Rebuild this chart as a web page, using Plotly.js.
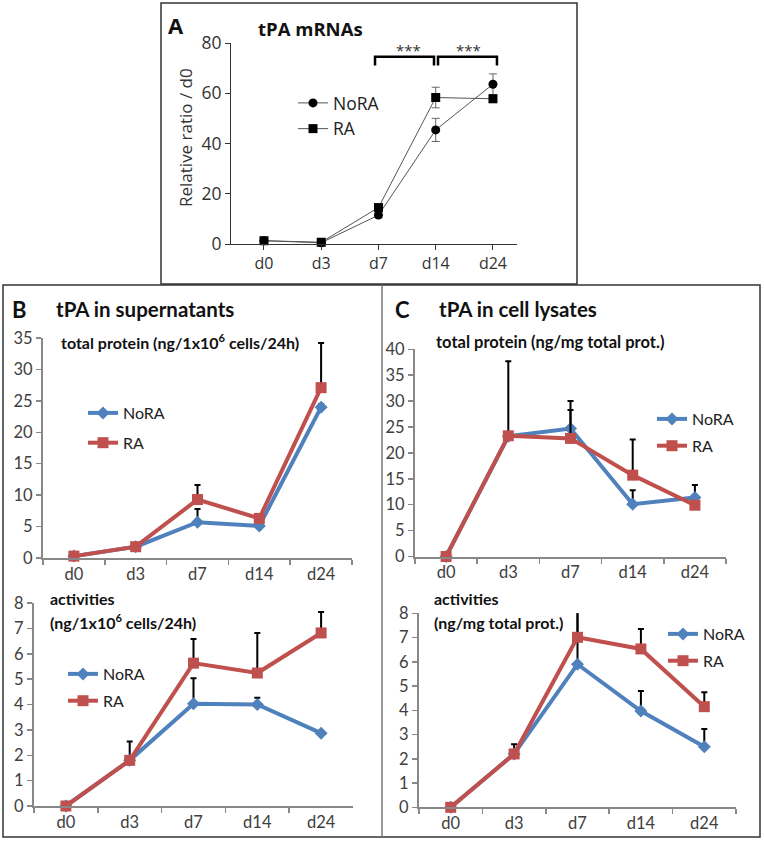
<!DOCTYPE html>
<html><head><meta charset="utf-8">
<script src="https://cdn.plot.ly/plotly-3.0.1.min.js"></script>
<style>body{margin:0;background:#fff}#chart{width:764px;height:841px}</style></head>
<body><div id="chart"></div>
<script>
const days = ['d0','d3','d7','d14','d24'];
// Panel A: tPA mRNAs (relative ratio / d0)
const mrnaNoRA = [1.3, 0.5, 11.5, 45.4, 63.6];
const mrnaNoRAErr = [0.3, 0.2, 1.0, 4.6, 4.1];
const mrnaRA = [1.3, 0.7, 14.5, 58.3, 57.8];
const mrnaRAErr = [0.3, 0.2, 1.0, 4.1, 1.5];
// Panel B top: supernatant total protein
const supProtNoRA = [0.3, 1.8, 5.7, 5.1, 24.0];
const supProtNoRAErr = [NaN, NaN, 2.1, NaN, 0.5];
const supProtRA = [0.3, 1.8, 9.3, 6.3, 27.1];
const supProtRAErr = [NaN, NaN, 2.3, NaN, 7.1];
// Panel B bottom: supernatant activities
const supActNoRA = [0, 1.8, 4.03, 4.0, 2.87];
const supActNoRAErr = [NaN, 0.74, 1.0, 0.27, NaN];
const supActRA = [0, 1.8, 5.63, 5.24, 6.82];
const supActRAErr = [NaN, NaN, 0.95, 1.58, 0.83];
// Panel C top: lysate total protein
const lysProtNoRA = [0, 23.2, 24.7, 10.1, 11.4];
const lysProtNoRAErr = [NaN, NaN, 3.6, 2.7, 2.4];
const lysProtRA = [0, 23.3, 22.8, 15.7, 9.9];
const lysProtRAErr = [NaN, 14.4, 7.2, 6.9, NaN];
// Panel C bottom: lysate activities
const lysActNoRA = [0, 2.2, 5.9, 3.97, 2.5];
const lysActNoRAErr = [NaN, 0.4, 2.2, 0.83, 0.73];
const lysActRA = [0, 2.2, 7.01, 6.53, 4.15];
const lysActRAErr = [NaN, NaN, 1.1, 0.82, 0.59];

const W = 764, H = 841;
const px = v => v / W;
const py = v => 1 - v / H;
const BLUE = '#4F81BD', RED = '#C0504D';
const FONT = 'Lato, "Open Sans", sans-serif';
const FONT_A = '"Open Sans", sans-serif';

function excelTrace(y, err, name, color, symbol, size, n, leg, grp) {
  return {
    x: days, y: y, name: name, type: 'scatter', mode: 'lines+markers',
    xaxis: 'x' + n, yaxis: 'y' + n, legend: leg, legendgroup: grp,
    cliponaxis: false,
    line: {color: color, width: 4},
    marker: {color: color, symbol: symbol, size: size},
    error_y: {type: 'data', symmetric: false, array: err, arrayminus: err.map(() => 0),
      color: '#000', thickness: 2, width: 3}
  };
}
function aTrace(y, err, name, symbol, grp) {
  return {
    x: days, y: y, name: name, type: 'scatter', mode: 'lines+markers',
    xaxis: 'x', yaxis: 'y', legend: 'legend', legendgroup: grp, cliponaxis: false,
    line: {color: '#555', width: 1},
    marker: {color: '#000', symbol: symbol, size: 9},
    error_y: {type: 'data', array: err, color: '#666', thickness: 1, width: 4}
  };
}

const data = [
  aTrace(mrnaNoRA, mrnaNoRAErr, 'NoRA', 'circle', 'a1'),
  aTrace(mrnaRA, mrnaRAErr, 'RA', 'square', 'a2'),
  excelTrace(supProtNoRA, supProtNoRAErr, 'NoRA', BLUE, 'diamond', 10, 2, 'legend2', 'b1'),
  excelTrace(supProtRA, supProtRAErr, 'RA', RED, 'square', 11, 2, 'legend2', 'b2'),
  excelTrace(supActNoRA, supActNoRAErr, 'NoRA', BLUE, 'diamond', 10, 3, 'legend3', 'c1'),
  excelTrace(supActRA, supActRAErr, 'RA', RED, 'square', 11, 3, 'legend3', 'c2'),
  excelTrace(lysProtNoRA, lysProtNoRAErr, 'NoRA', BLUE, 'diamond', 10, 4, 'legend4', 'd1'),
  excelTrace(lysProtRA, lysProtRAErr, 'RA', RED, 'square', 11, 4, 'legend4', 'd2'),
  excelTrace(lysActNoRA, lysActNoRAErr, 'NoRA', BLUE, 'diamond', 10, 5, 'legend5', 'e1'),
  excelTrace(lysActRA, lysActRAErr, 'RA', RED, 'square', 11, 5, 'legend5', 'e2')
];

function exX(d0, d1, n) {
  return {domain: [px(d0), px(d1)], anchor: 'y' + n, type: 'category', range: [-0.5, 4.5],
    tickson: 'boundaries', ticks: 'outside', ticklen: 5, tickwidth: 1.5, tickcolor: '#888',
    showline: true, linecolor: '#888', linewidth: 2, showgrid: false, zeroline: false,
    tickfont: {family: FONT, size: 16.5, color: '#404040'}, fixedrange: true};
}
function exY(top, bot, max, dt, n) {
  return {domain: [py(bot), py(top)], anchor: 'x' + n, range: [0, max], dtick: dt,
    ticks: 'outside', ticklen: 5, tickwidth: 1.5, tickcolor: '#888',
    showline: true, linecolor: '#888', linewidth: 2, showgrid: false, zeroline: false,
    tickfont: {family: FONT, size: 16.5, color: '#404040'}, fixedrange: true};
}
function exLegend(textLeft, topY, gap) {
  return {x: px(textLeft - 40), y: py(topY), xanchor: 'left', yanchor: 'top',
    bgcolor: 'rgba(0,0,0,0)', borderwidth: 0, tracegroupgap: gap,
    font: {family: FONT, size: 16, color: '#222'}};
}
function ann(text, x, y, size, opts) {
  return Object.assign({text: text, x: px(x), y: py(y), xref: 'paper', yref: 'paper',
    xanchor: 'left', yanchor: 'middle', showarrow: false,
    font: {family: FONT, size: size, color: '#111'}}, opts || {});
}

const layout = {
  width: W, height: H, margin: {l: 0, r: 0, t: 0, b: 0},
  paper_bgcolor: '#fff', plot_bgcolor: 'rgba(0,0,0,0)',
  xaxis: {domain: [px(231), px(517)], anchor: 'y', type: 'category', range: [-0.576, 4.42],
    ticks: 'outside', ticklen: 5, tickcolor: '#333', showline: true, linecolor: '#333', linewidth: 1,
    showgrid: false, zeroline: false, tickfont: {family: FONT_A, size: 16, color: '#333'}},
  yaxis: {domain: [py(244), py(43)], anchor: 'x', range: [0, 80], dtick: 20,
    ticks: 'outside', ticklen: 5, tickcolor: '#333', showline: true, linecolor: '#333', linewidth: 1,
    showgrid: false, zeroline: false, tickfont: {family: FONT_A, size: 17.5, color: '#333'}},
  xaxis2: exX(43, 352, 2), yaxis2: exY(338, 558, 35, 5, 2),
  xaxis3: exX(34, 353, 3), yaxis3: exY(603, 806, 8, 1, 3),
  xaxis4: exX(415, 726, 4), yaxis4: exY(349.3, 556.5, 40, 5, 4),
  xaxis5: exX(419, 736, 5), yaxis5: exY(613.3, 807.3, 8, 1, 5),
  legend: {x: px(333 - 40), y: py(85), xanchor: 'left', yanchor: 'top',
    bgcolor: 'rgba(0,0,0,0)', borderwidth: 0, tracegroupgap: 0,
    font: {family: FONT_A, size: 17.5, color: '#222'}},
  legend2: exLegend(123, 396, 6),
  legend3: exLegend(103, 657, 3),
  legend4: exLegend(692, 402, 3),
  legend5: exLegend(703, 617, 3),
  showlegend: true,
  annotations: [
    ann('<b>A</b>', 166, 25, 22, {font: {family: FONT_A, size: 22, color: '#111'}}),
    ann('<b>tPA mRNAs</b>', 256, 29, 18.5, {font: {family: FONT_A, size: 18.5, color: '#111'}}),
    ann('***', 408, 50, 15, {xanchor: 'center', font: {family: FONT_A, size: 15, color: '#333'}}),
    ann('***', 468, 50, 15, {xanchor: 'center', font: {family: FONT_A, size: 15, color: '#333'}}),
    ann('Relative ratio / d0', 185, 138, 17, {xanchor: 'center', textangle: -90,
      font: {family: FONT_A, size: 17, color: '#333'}}),
    ann('<b>B</b>', 10, 310, 22),
    ann('<b>tPA in supernatants</b>', 54, 309, 20.5),
    ann('<b>total protein (ng/1x10<sup>6</sup> cells/24h)</b>', 59, 342, 16),
    ann('<b>activities</b>', 48, 598, 16),
    ann('<b>(ng/1x10<sup>6</sup> cells/24h)</b>', 48, 621, 16),
    ann('<b>C</b>', 393, 310, 22),
    ann('<b>tPA in cell lysates</b>', 437, 309, 20.5),
    ann('<b>total protein (ng/mg total prot.)</b>', 434, 342, 16.5),
    ann('<b>activities</b>', 432, 598, 16),
    ann('<b>(ng/mg total prot.)</b>', 432, 622, 16)
  ],
  shapes: [
    {type: 'rect', xref: 'paper', yref: 'paper', x0: px(161), x1: px(577), y0: py(284), y1: py(3),
      line: {color: '#333', width: 1.5}},
    {type: 'rect', xref: 'paper', yref: 'paper', x0: px(3), x1: px(760), y0: py(837), y1: py(285),
      line: {color: '#333', width: 1.5}},
    {type: 'line', xref: 'paper', yref: 'paper', x0: px(382), x1: px(382), y0: py(837), y1: py(285),
      line: {color: '#777', width: 1.5}},
    {type: 'path', xref: 'x', yref: 'y', path: 'M 1.94,71 L 1.94,74.5 L 2.97,74.5 L 2.97,71',
      line: {color: '#000', width: 2.5}},
    {type: 'path', xref: 'x', yref: 'y', path: 'M 3.04,71 L 3.04,74.5 L 4.07,74.5 L 4.07,71',
      line: {color: '#000', width: 2.5}}
  ]
};

Plotly.newPlot('chart', data, layout, {displayModeBar: false, staticPlot: true});
</script>
</body></html>
